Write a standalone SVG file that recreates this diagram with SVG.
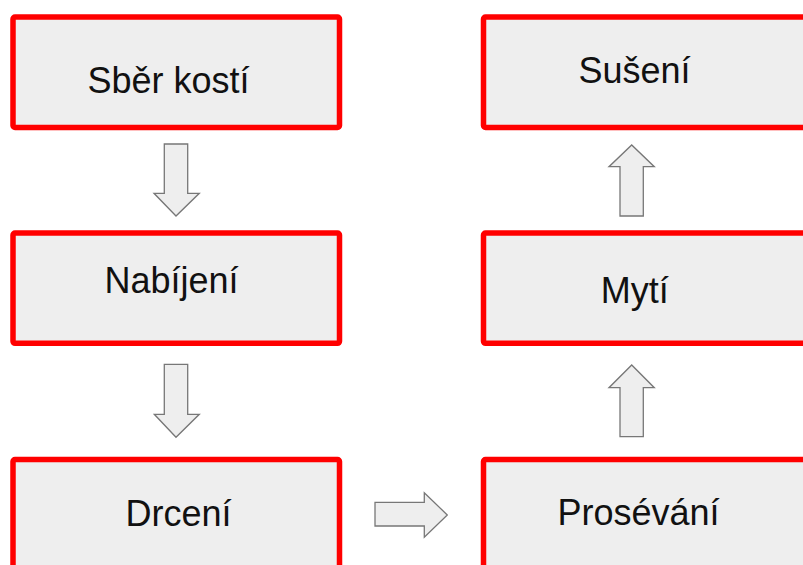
<svg xmlns="http://www.w3.org/2000/svg" width="803" height="565" viewBox="0 0 803 565">
<style>
.box{fill:#eeeeee;stroke:#ff0000;stroke-width:5.5}
.lbl{font-family:"Liberation Sans",Arial,sans-serif;font-size:36px;fill:#111}
.arr{fill:#eeeeee;stroke:#777777;stroke-width:1.3;stroke-linejoin:miter}
</style>
<rect width="803" height="565" fill="#ffffff"/>
<g id="node-sber"><rect class="box" x="13" y="17" width="326.5" height="110.5" rx="2"/><text class="lbl" x="87.5" y="93">Sběr kostí</text></g>
<g id="node-nabijeni"><rect class="box" x="13" y="233" width="326.5" height="110.3" rx="2"/><text class="lbl" x="104.5" y="292.7">Nabíjení</text></g>
<g id="node-drceni"><rect class="box" x="13" y="459.5" width="326.5" height="110.5" rx="2"/><text class="lbl" x="125.5" y="526">Drcení</text></g>
<g id="node-suseni"><rect class="box" x="483.5" y="17" width="330" height="110.5" rx="2"/><text class="lbl" x="578.5" y="83">Sušení</text></g>
<g id="node-myti"><rect class="box" x="483.5" y="233" width="330" height="110.3" rx="2"/><text class="lbl" x="600.7" y="303.3">Mytí</text></g>
<g id="node-proseavani"><rect class="box" x="483.5" y="459.5" width="330" height="110.5" rx="2"/><text class="lbl" x="557.5" y="525">Prosévání</text></g>
<g id="connectors">
<polygon class="arr" points="164.3,144 187.7,144 187.7,193.3 199.3,193.3 176,216 154,193.3 164.3,193.3"/>
<polygon class="arr" points="164.3,364.3 187.7,364.3 187.7,414.3 199.3,414.3 176,437.3 154.3,414.3 164.3,414.3"/>
<polygon class="arr" points="375,502.3 424.3,502.3 424.3,492.7 447.3,515 424.3,537.3 424.3,526 375,526"/>
<polygon class="arr" points="620,436.7 643.3,436.7 643.3,387.7 654.3,387.7 631.7,365 609,387.7 620,387.7"/>
<polygon class="arr" points="620,216 643.3,216 643.3,166.7 654.3,166.7 631.7,145 609,166.7 620,166.7"/>
</g>
</svg>
